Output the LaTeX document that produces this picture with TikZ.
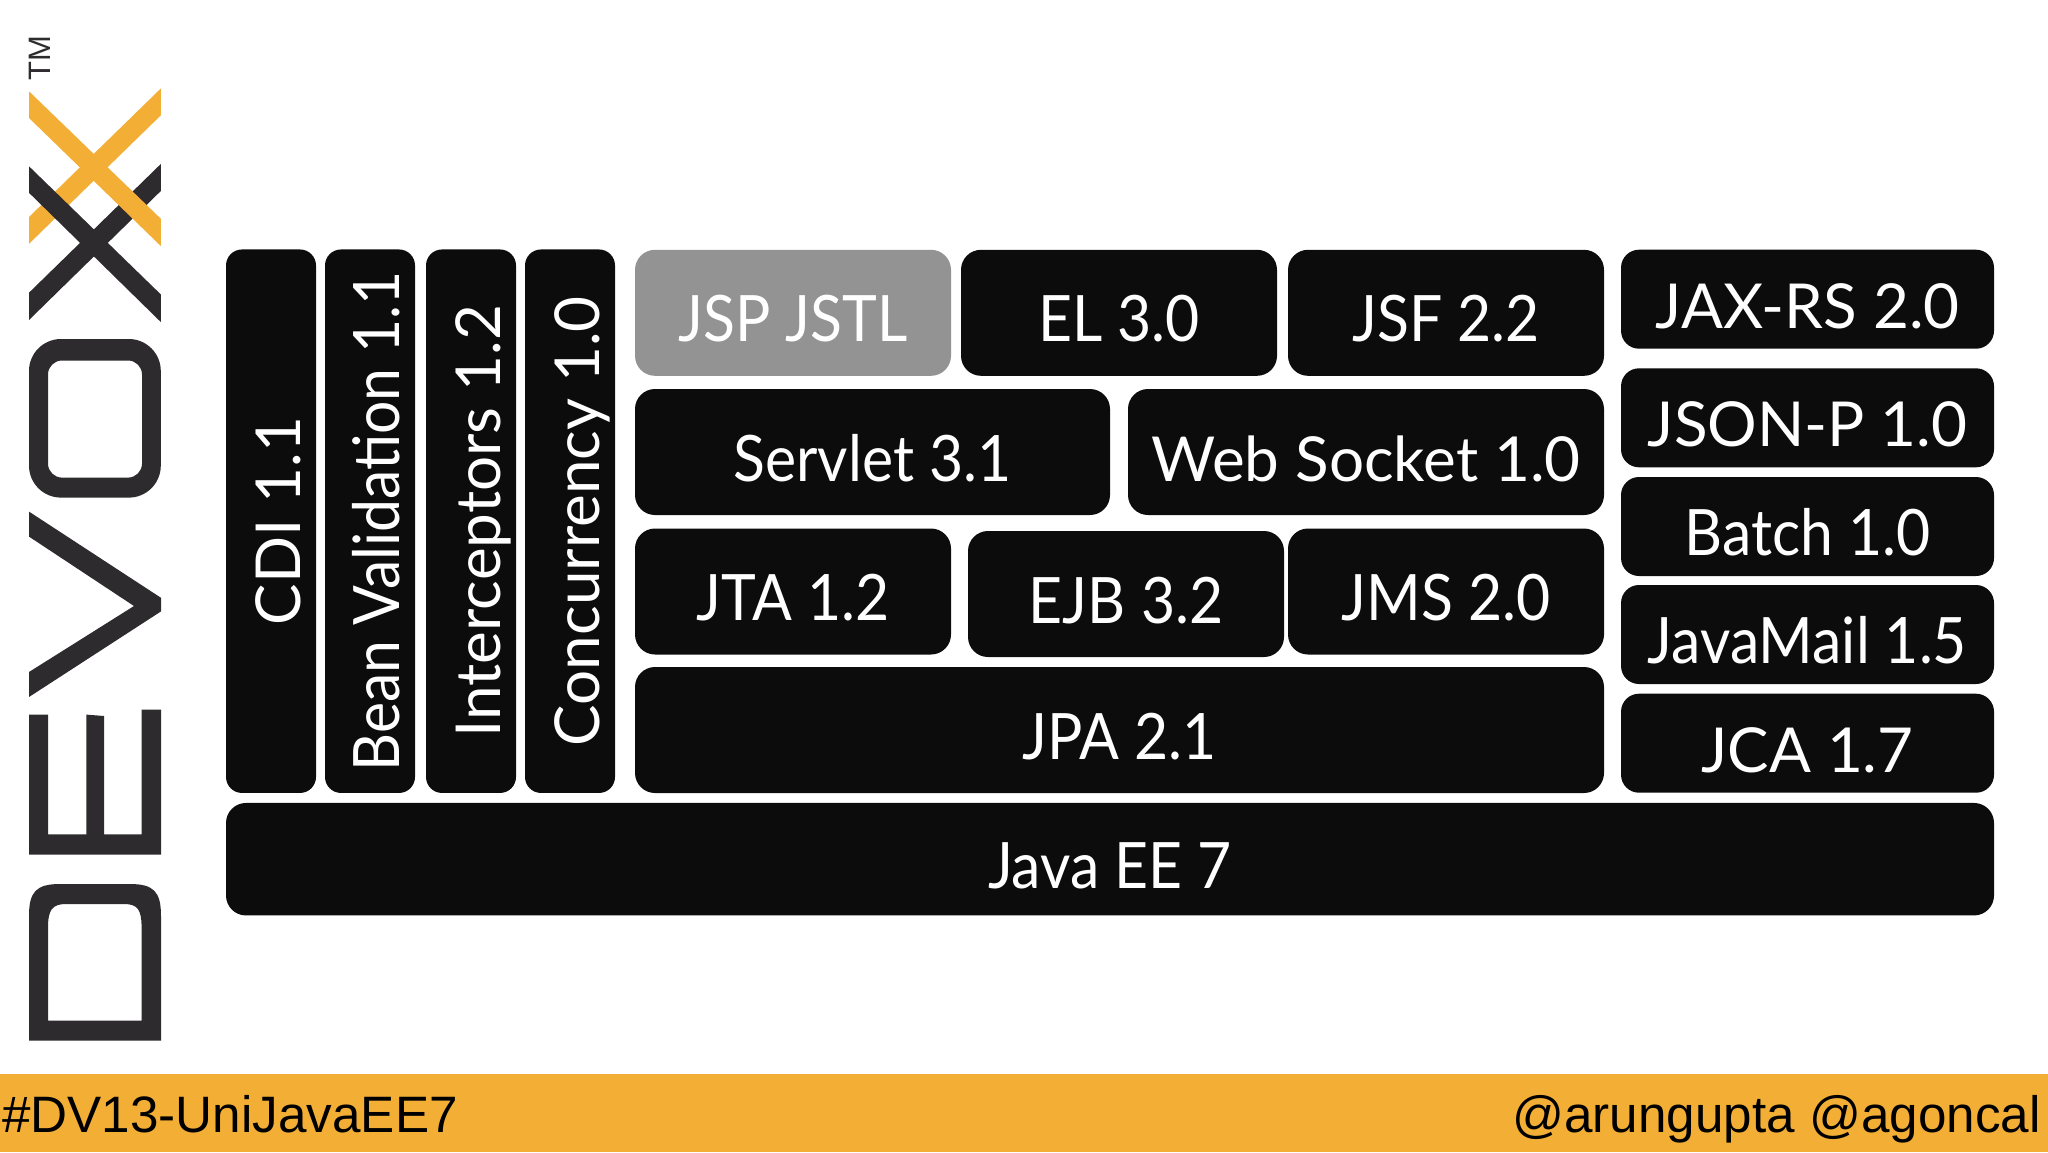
\documentclass[tikz,border=0pt]{standalone}
\usepackage{fontspec}
\setmainfont{Lato}
\newfontfamily\narrowfont[FakeStretch=0.92]{Lato}
\newfontfamily\footerfont{Liberation Sans}
\definecolor{boxblack}{HTML}{0D0C0D}
\definecolor{boxgray}{HTML}{939393}
\definecolor{logodark}{HTML}{2D2B2D}
\definecolor{logoorange}{HTML}{F3AE35}
\tikzset{
	specbox/.style={draw=none, fill=boxblack, text=white, rounded corners=10pt, inner sep=0,
		font=\narrowfont\fontsize{32}{32}\selectfont, text height=33pt, text depth=4pt, align=center},
	fullface/.style={font=\fontsize{31}{31}\selectfont},
	topbox/.style={specbox, minimum width=158pt, minimum height=63pt},
	widebox/.style={specbox, minimum width=238pt, minimum height=63pt},
	sidebox/.style={specbox, minimum width=186.5pt, minimum height=49.5pt, rounded corners=9pt},
	barbox/.style={specbox, rotate=90, minimum width=271.75pt, minimum height=45pt, rounded corners=8pt},
	footertext/.style={font=\footerfont\fontsize{25.6}{25.6}\selectfont, text=black, inner sep=0}
}
\begin{document}
\begin{tikzpicture}[x=1pt, y=-1pt]
	\useasboundingbox (0,0) rectangle (1024,576);

	% logo
	\fill[logodark, even odd rule] (14.5,520.25) -- (14.5,458) .. controls (14.5,446) and (18,442) .. (30,442) -- (65,442)
		.. controls (77,442) and (80.5,446) .. (80.5,458) -- (80.5,520.25) -- cycle
		(24,510.3) -- (24,464) .. controls (24,455) and (26,452) .. (33,452) -- (62,452)
		.. controls (69,452) and (70.8,455) .. (70.8,464) -- (70.8,510.3) -- cycle;
	\fill[logodark] (14.5,427.35) -- (14.5,357.3) -- (24,357.3) -- (24,417.15) -- (43.2,417.15) -- (43.2,357.3) -- (52,358)
		-- (52,417.15) -- (70.8,417.15) -- (70.8,354.8) -- (80.5,354.8) -- (80.5,427.35) -- cycle;
	\fill[logodark] (14.5,255.8) -- (80.5,298.9) -- (80.5,305.7) -- (14.5,348.5) -- (14.5,336) -- (67,303) -- (14.5,268.3) -- cycle;
	\fill[logodark, even odd rule] [rounded corners=16pt] (14.5,169.5) rectangle (80.4,248.8)
		[rounded corners=7pt] (24,180.25) rectangle (71,238.8);
	\fill[logoorange] (14.5,108.5) -- (80.4,44.25) -- (80.4,57.7) -- (14.5,121.9) -- cycle;
	\fill[logodark] (14.5,83.15) -- (80.4,147.2) -- (80.4,161) -- (14.5,96.4) -- cycle;
	\fill[logodark] (14.5,146.35) -- (80.4,82) -- (80.4,95.5) -- (14.5,160) -- cycle;
	\fill[logoorange] (14.5,45.65) -- (80.4,109.35) -- (80.4,123) -- (14.5,59) -- cycle;
	\node[rotate=90, anchor=base, font=\footerfont\fontsize{15.5}{15.5}\selectfont, text=logodark, inner sep=0] (trademark) at (25,29) {TM};

	% left bars
	\node[barbox, fullface](cdi) at (135.5,260.6) {CDI 1.1};
	\node[barbox](beanvalidation) at (185,260.6) {Bean Validation 1.1};
	\node[barbox, fullface](interceptors) at (235.5,260.6) {Interceptors 1.2};
	\node[barbox, fullface](concurrency) at (285,260.6) {Concurrency 1.0};

	% web and business layers
	\node[topbox, fill=boxgray](jsp) at (396.5,156.4) {JSP JSTL};
	\node[topbox](el) at (559.5,156.4) {EL 3.0};
	\node[topbox](jsf) at (723,156.4) {JSF 2.2};
	\node[widebox, minimum width=237.5pt](servlet) at (436.25,226) {Servlet 3.1};
	\node[widebox, fullface](websocket) at (683,226) {Web Socket 1.0};
	\node[topbox](jta) at (396.5,295.75) {JTA 1.2};
	\node[topbox](ejb) at (563,297) {EJB 3.2};
	\node[topbox](jms) at (723,295.75) {JMS 2.0};
	\node[widebox, minimum width=484.5pt](jpa) at (559.75,365) {JPA 2.1};

	% right column
	\node[sidebox, fullface](jaxrs) at (903.75,149.6) {JAX-RS 2.0};
	\node[sidebox, fullface](jsonp) at (903.75,208.9) {JSON-P 1.0};
	\node[sidebox](batch) at (903.75,263.25) {Batch 1.0};
	\node[sidebox](javamail) at (903.75,317.25) {JavaMail 1.5};
	\node[sidebox, fullface](jca) at (903.75,371.6) {JCA 1.7};

	\node[specbox, minimum width=884pt, minimum height=56.25pt](javaee) at (555,429.6) {Java EE 7};

	% footer
	\fill[logoorange] (0,536.8) rectangle (1024,576);
	\node[footertext, anchor=base west](hashtag) at (1,566) {\#DV13-UniJavaEE7};
	\node[footertext, anchor=base east](speakers) at (1020.5,566) {@arungupta @agoncal};
\end{tikzpicture}
\end{document}
